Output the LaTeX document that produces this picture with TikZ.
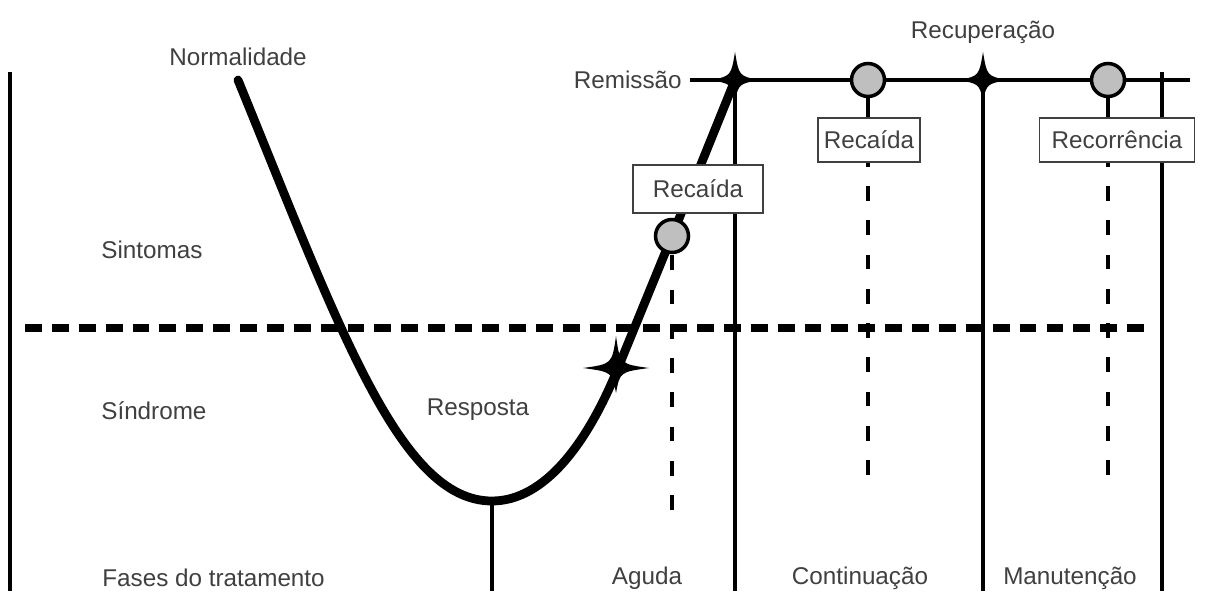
\documentclass[tikz,border=0pt]{standalone}
\usepackage{fontspec}
\setmainfont{Liberation Sans}
\usetikzlibrary{positioning}

% four-point star: x, y, half width, up, down
\newcommand{\sparkle}[5]{%
  \fill (#1,#2-#4) .. controls (#1+4,#2-4) .. (#1+#3,#2)
    .. controls (#1+4,#2+4) .. (#1,#2+#5)
    .. controls (#1-4,#2+4) .. (#1-#3,#2)
    .. controls (#1-4,#2-4) .. cycle;}

\begin{document}
\begin{tikzpicture}[x=0.02cm, y=-0.02cm]

\tikzset{
  tag/.style={font=\fontsize{13.8}{16}\selectfont, text=black!75, inner sep=0pt},
  event/.style={
    rectangle, draw=black!75, line width=0.8pt, fill=white,
    align=center, inner sep=2pt,
    font=\fontsize{13.8}{16}\selectfont, text=black!75
  },
  marker/.style={circle, draw, line width=2pt, fill=black!25,
    minimum size=0.66cm, inner sep=0pt},
  axis/.style={line width=2.4pt},
  course/.style={line width=5pt, line cap=round},
  threshold/.style={line width=4.5pt, dash pattern=on 9.6pt off 5.7pt},
  cut/.style={line width=2.2pt, dash pattern=on 8.5pt off 11pt}
}

\useasboundingbox[fill=white] (0,0) rectangle (1212,591);

% ==========================
% Key points
% ==========================
\coordinate (norm) at (238,80);
\coordinate (low) at (492,501);
\coordinate (resp) at (618,368);
\coordinate (m1) at (672,236);
\coordinate (rem) at (735,80);
\coordinate (rec) at (983,80);

% ==========================
% Axis and phase lines
% ==========================
\draw[axis] (10,72) -- (10,591);
\draw[axis] (low) -- (low |- 0,591);
\draw[axis] (rem) -- (rem |- 0,591);
\draw[axis] (rec) -- (rec |- 0,591);
\draw[axis] (1162,72) -- (1162,591);
\draw[line width=2.8pt] (690,80) -- (1190,80);

% threshold between symptoms and syndrome
\draw[threshold] (25,328) -- (1150,328);

% ==========================
% Course of the episode
% ==========================
\draw[course] (norm) .. controls (340,330) and (400,501) .. (low)
  .. controls (545,501) and (588,442) .. (resp) -- (m1) -- (rem);

\sparkle{735}{80}{24}{28}{20}
\sparkle{983}{80}{24}{28}{20}
\sparkle{616}{368}{33}{32}{25}

% ==========================
% Relapse / recurrence events
% ==========================
\node[marker] (c1) at (m1) {};
\node[marker] (c2) at (868,80) {};
\node[marker] (c3) at (1108,80) {};

\node[event, minimum width=2.6cm, minimum height=0.96cm] (b1) at (698,189) {Recaída};
\node[event, minimum width=2.04cm, minimum height=0.88cm] (b2) at (869,140) {Recaída};
\node[event, minimum width=3.1cm, minimum height=0.88cm] (b3) at (1117,140) {Recorrência};

\draw[line width=2pt] (c2) -- (c2 |- b2.north);
\draw[line width=2pt] (c3) -- (c3 |- b3.north);

% dashed drop lines, drawn bottom-up
\draw[cut] (c1.south |- 0,510) -- (c1.south);
\draw[cut] (c2 |- 0,475) -- (b2.south -| c2);
\draw[cut] (c3 |- 0,475) -- (b3.south -| c3);

% ==========================
% Labels
% ==========================
\node[tag] (lnorm) at (238,57) {Normalidade};
\node[tag, anchor=east] (lrem) at (682,80) {Remissão};
\node[tag] (lrec) at (983,32) {Recuperação};
\node[tag, anchor=west] (lsint) at (101,250) {Sintomas};
\node[tag, anchor=west] (lsind) at (101,411) {Síndrome};
\node[tag] (lresp) at (478,410) {Resposta};
\node[tag, anchor=west] (lfases) at (102,578) {Fases do tratamento};
\node[tag] (lagu) at (647,578) {Aguda};
\node[tag] (lcont) at (860,578) {Continuação};
\node[tag] (lman) at (1070,578) {Manutenção};

\end{tikzpicture}
\end{document}
